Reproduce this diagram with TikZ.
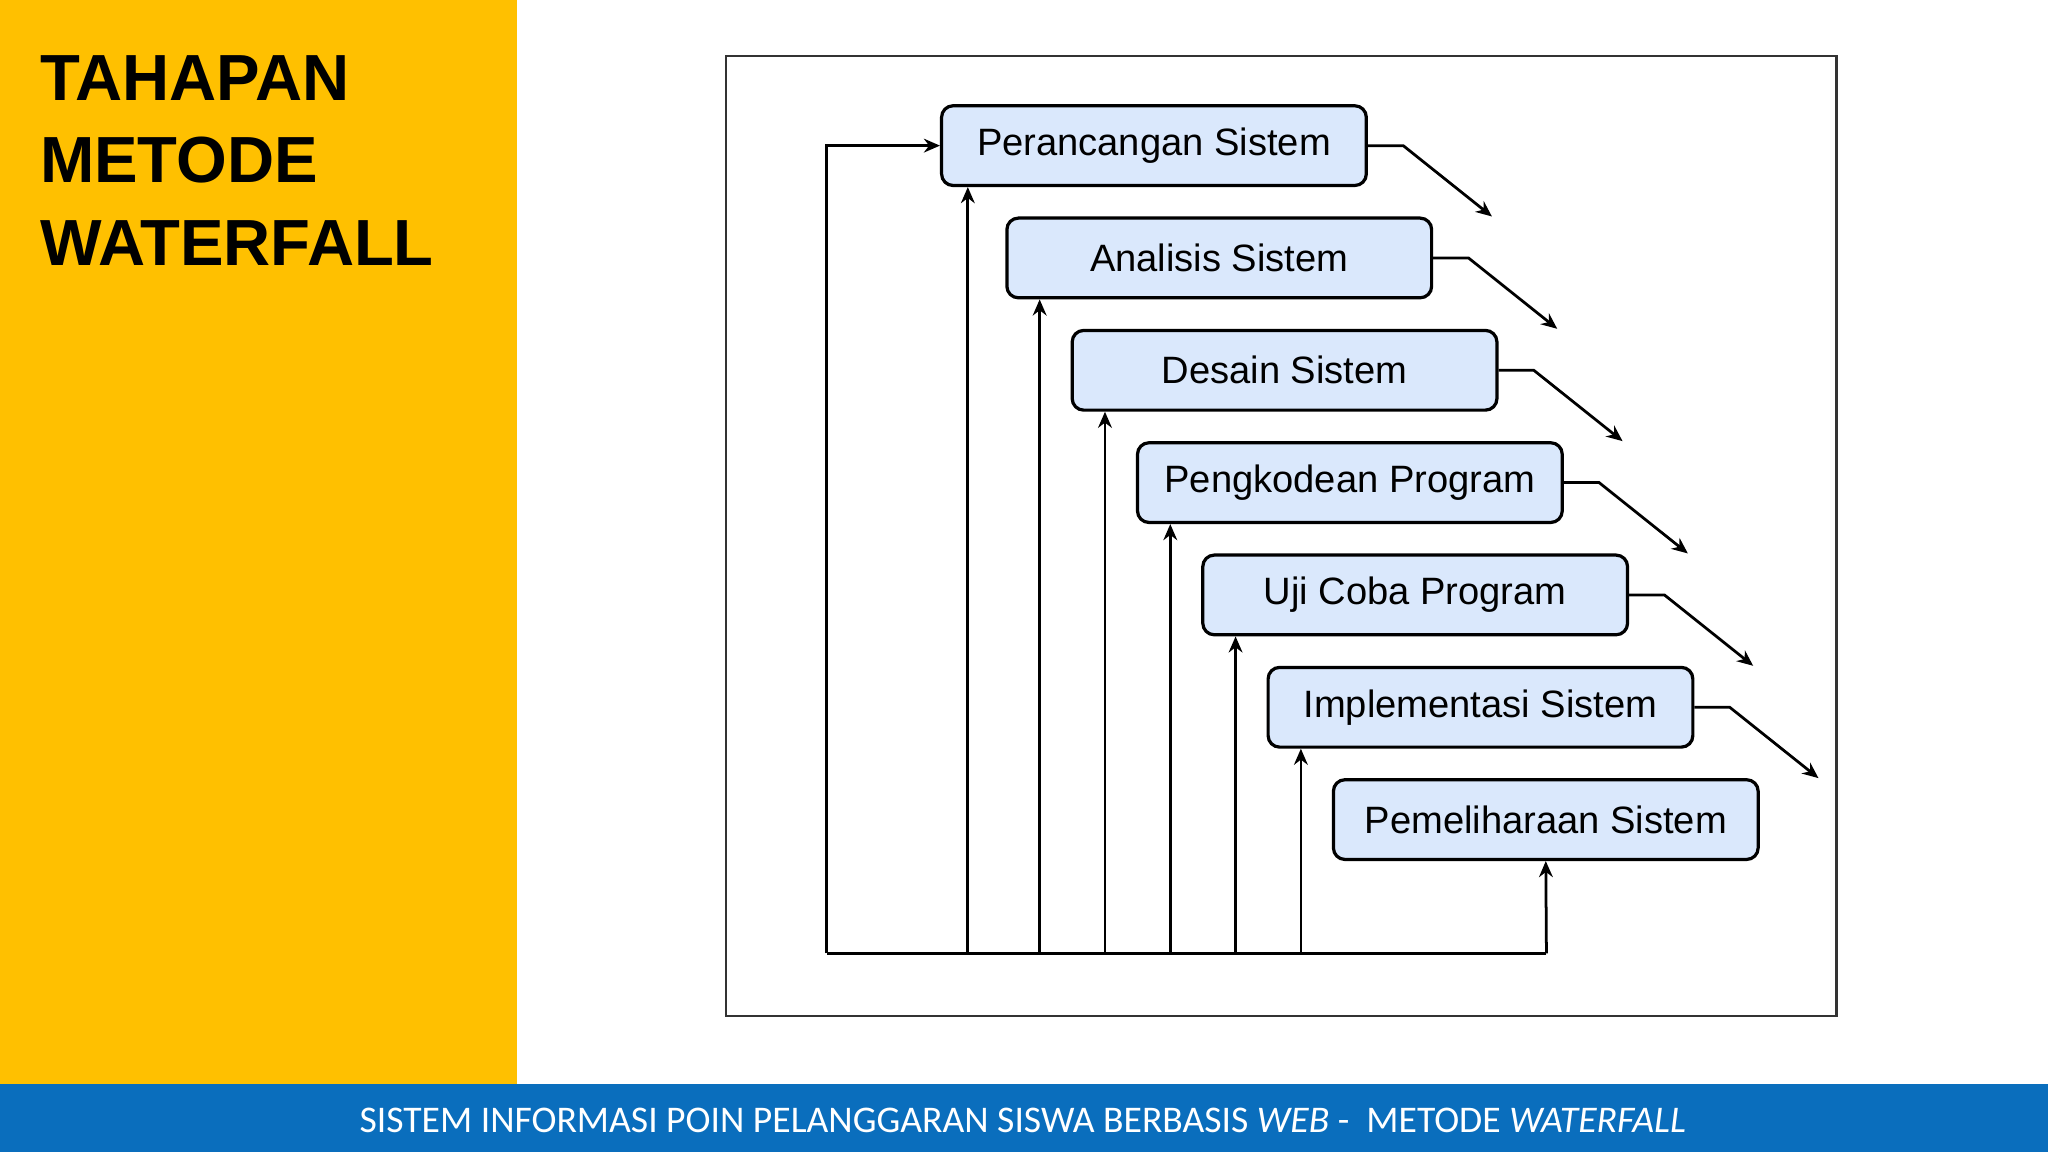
\documentclass[tikz,border=0pt]{standalone}
\usepackage{fontspec}
\setmainfont{Liberation Sans}
\newfontfamily\foot{Carlito}
\usetikzlibrary{arrows.meta}
\definecolor{ybg}{HTML}{FFC000}
\definecolor{bbg}{HTML}{0A6EBD}
\definecolor{boxf}{HTML}{DAE8FC}
\begin{document}
\begin{tikzpicture}[x=0.01cm,y=-0.01cm,
  box/.style={draw=black,line width=0.7pt,fill=boxf,rounded corners=2.5pt,minimum width=3.25cm,minimum height=0.61cm,inner sep=0pt,font=\fontsize{8.3pt}{10pt}\selectfont},
  ar/.style={line width=0.6pt,-{Stealth[length=3.5pt,width=3pt]}},
  ln/.style={line width=0.6pt}]
\useasboundingbox (0,0) rectangle (1568,882);
\fill[ybg] (0,0) rectangle (396,830);
\fill[bbg] (0,830) rectangle (1568,882);
\node[anchor=north west,align=left,font=\bfseries\fontsize{14.2pt}{17.9pt}\selectfont,inner sep=0pt] (title) at (30,42) {TAHAPAN\\METODE\\WATERFALL};
\node[text=white,font=\foot\fontsize{8.2pt}{10pt}\selectfont] (foot) at (783,858) {SISTEM INFORMASI POIN PELANGGARAN SISWA BERBASIS \textit{WEB} -\ \ METODE \textit{WATERFALL}};
\draw[line width=0.5pt,draw=black!80] (556,43) rectangle (1406,778);
\node[box] (b1) at (883.5,111.5) {Perancangan Sistem};
\node[box] (b2) at (933.5,197.5) {Analisis Sistem};
\node[box] (b3) at (983.5,283.5) {Desain Sistem};
\node[box] (b4) at (1033.5,369.5) {Pengkodean Program};
\node[box] (b5) at (1083.5,455.5) {Uji Coba Program};
\node[box] (b6) at (1133.5,541.5) {Implementasi Sistem};
\node[box] (b7) at (1183.5,627.5) {Pemeliharaan Sistem};
\foreach \a/\b in {b1/b2,b2/b3,b3/b4,b4/b5,b5/b6,b6/b7}{
  \draw[ar] (\a.east) -- ++(27,0) -- ([xshift=27]\a.east |- \b.north);
}
\coordinate (c0) at (633,730);
\coordinate (c7) at (1184,730);
\draw[ln] (c7) -- (c0);
\draw[ar] (c0) |- (b1.west);
\foreach \b/\x in {b1/741,b2/796,b3/846,b4/896,b5/946,b6/996}{
  \coordinate (t\b) at (\x,730);
  \draw[ar] (t\b) -- (t\b |- \b.south);
}
\draw[ar] (c7) -- (b7.south);
\end{tikzpicture}
\end{document}
